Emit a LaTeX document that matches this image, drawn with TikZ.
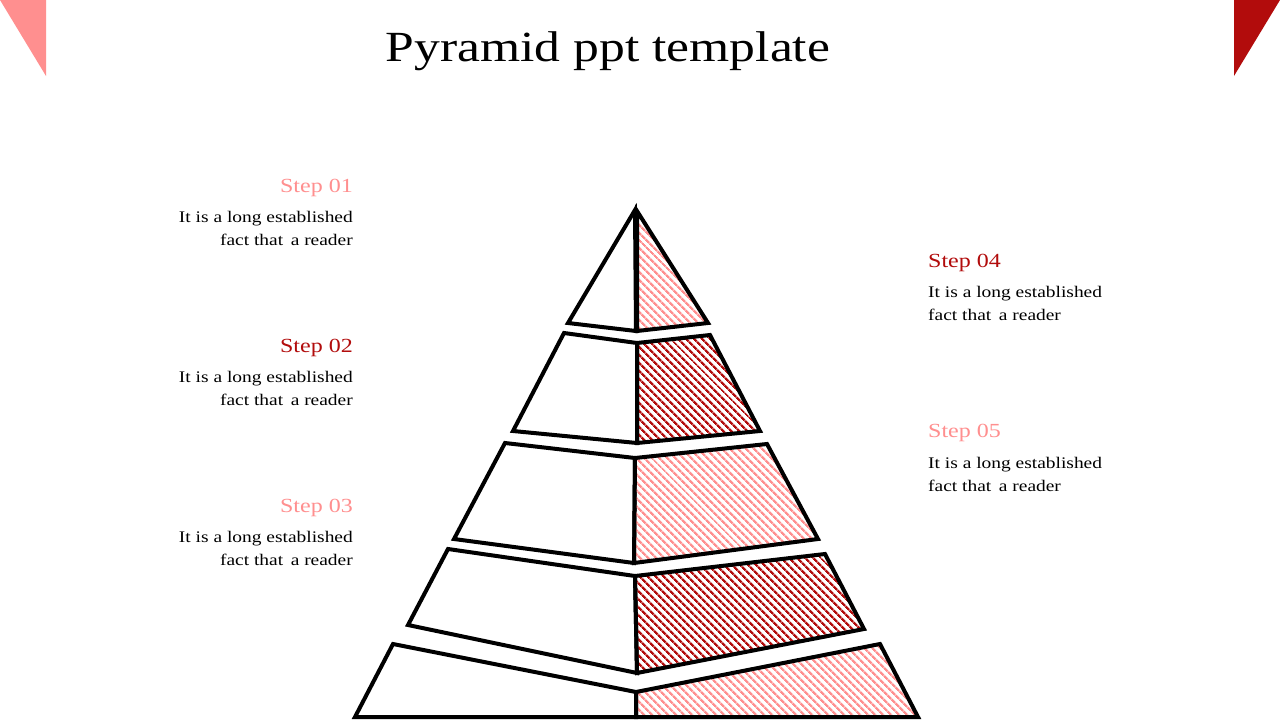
\documentclass[tikz,border=0pt]{standalone}
\usepackage{fontspec}
\setmainfont{Liberation Serif}[FakeStretch=1.2]
\usetikzlibrary{patterns.meta}
\definecolor{pinkc}{HTML}{FF8F8F}
\definecolor{darkc}{HTML}{B20C0C}
\tikzset{
  tier/.style={draw=black, line width=4pt, line join=miter},
  plainhalf/.style={tier, fill=white},
  hatchpink/.style={tier, pattern={Lines[angle=-45,distance=5.4pt,line width=2.4pt]}, pattern color=pinkc},
  hatchdark/.style={tier, pattern={Lines[angle=-45,distance=5.4pt,line width=2.4pt]}, pattern color=darkc},
  titletext/.style={inner sep=0pt, anchor=base, font=\fontsize{43}{50}\selectfont},
  headL/.style={inner sep=0pt, anchor=base east, font=\fontsize{20}{24}\selectfont},
  headR/.style={inner sep=0pt, anchor=base west, font=\fontsize{20}{24}\selectfont},
  bodyL/.style={inner sep=0pt, anchor=base east, font=\fontsize{16.2}{20}\selectfont},
  bodyR/.style={inner sep=0pt, anchor=base west, font=\fontsize{16.2}{20}\selectfont},
}
\begin{document}
\begin{tikzpicture}[x=1pt,y=-1pt]
\useasboundingbox (0,0) rectangle (1280,720);
\fill[white] (0,0) rectangle (1280,720);
% corner triangles
\fill[pinkc] (0,0) -- (46,0) -- (46,76) -- cycle;
\fill[darkc] (1234,0) -- (1280,0) -- (1234,76) -- cycle;
% title
\node[titletext] (title) at (608,61) {Pyramid ppt template};
% pyramid tiers
\draw[plainhalf] (635,210) -- (568,323) -- (636,331) -- cycle;
\draw[hatchpink] (637,211) -- (637,331) -- (708,323) -- cycle;
\draw[plainhalf] (564,333) -- (637,343) -- (637,443) -- (513,431) -- cycle;
\draw[hatchdark] (637,343) -- (710,335) -- (760,431) -- (637,443) -- cycle;
\draw[plainhalf] (505,443) -- (635,458) -- (634,563) -- (454,539) -- cycle;
\draw[hatchpink] (635,458) -- (767,444) -- (818,539) -- (634,563) -- cycle;
\draw[plainhalf] (448,549) -- (635,576) -- (637,673) -- (408,625) -- cycle;
\draw[hatchdark] (635,576) -- (825,554) -- (864,629) -- (637,673) -- cycle;
\draw[plainhalf] (393,644) -- (636,692) -- (636,717) -- (355,717) -- cycle;
\draw[hatchpink] (636,692) -- (880,644) -- (918,717) -- (636,717) -- cycle;
% left texts
\node[headL, text=pinkc] (h1) at (353,192) {Step 01};
\node[bodyL] (a1) at (353,222) {It is a long established};
\node[bodyL] (b1) at (353,245) {fact that\, a reader};
\node[headL, text=darkc] (h2) at (353,352) {Step 02};
\node[bodyL] (a2) at (353,382) {It is a long established};
\node[bodyL] (b2) at (353,405) {fact that\, a reader};
\node[headL, text=pinkc] (h3) at (353,512) {Step 03};
\node[bodyL] (a3) at (353,542) {It is a long established};
\node[bodyL] (b3) at (353,565) {fact that\, a reader};
% right texts
\node[headR, text=darkc] (h4) at (928,267) {Step 04};
\node[bodyR] (a4) at (928,297) {It is a long established};
\node[bodyR] (b4) at (928,320) {fact that\, a reader};
\node[headR, text=pinkc] (h5) at (928,437) {Step 05};
\node[bodyR] (a5) at (928,468) {It is a long established};
\node[bodyR] (b5) at (928,491) {fact that\, a reader};
\end{tikzpicture}
\end{document}
